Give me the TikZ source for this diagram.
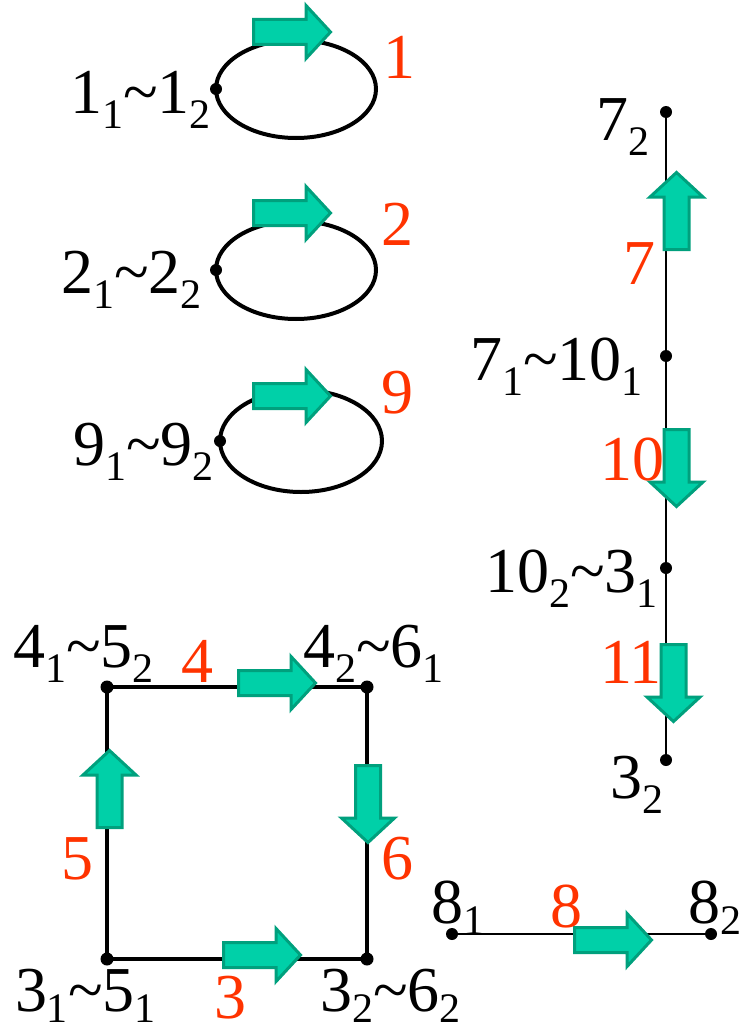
\documentclass[tikz,border=0pt]{standalone}
\usepackage{fontspec}
\setmainfont{Liberation Serif}
\usetikzlibrary{shapes.geometric}
\definecolor{tealfill}{RGB}{0,208,168}
\definecolor{tealedge}{RGB}{0,160,125}
\definecolor{labred}{RGB}{255,51,0}
\newcommand{\mainsz}{\fontsize{64}{64}\selectfont}
\newcommand{\subd}[1]{\raisebox{-15pt}{\fontsize{42}{42}\selectfont #1}}
\newcommand{\subl}[1]{\raisebox{-11pt}{\fontsize{42}{42}\selectfont #1}}
\newcommand{\tld}{\textasciitilde}
\newcommand{\barr}[2]{\draw[blockarr, shift={#1}, rotate=#2] (1.5,-12.5) -- (54,-12.5) -- (54,-26.5) -- (78.5,0) -- (54,26.5) -- (54,12.5) -- (1.5,12.5) -- cycle;}
\begin{document}
\begin{tikzpicture}[x=1pt,y=-1pt,
  lbl/.style={anchor=base west, inner sep=0pt, outer sep=0pt, font=\mainsz, text=black},
  num/.style={lbl, text=labred},
  thickln/.style={line width=4pt, draw=black},
  thinln/.style={line width=1.8pt, draw=black},
  loopell/.style={ellipse, thickln, inner sep=0pt, outer sep=0pt},
  blockarr/.style={fill=tealfill, draw=tealedge, line width=3pt, line join=miter},
  dotr/.style={fill=black}]
\useasboundingbox (0,0) rectangle (740,1033);

% --- loops ---
\node[loopell, minimum width=160pt, minimum height=98pt] (L1) at (296,89) {};
\node[loopell, minimum width=160pt, minimum height=98pt] (L2) at (296,270) {};
\node[loopell, minimum width=162pt, minimum height=102pt] (L9) at (301,441) {};
\fill[dotr] (L1.west) circle (6pt);
\fill[dotr] (L2.west) circle (6pt);
\fill[dotr] (L9.west) circle (6pt);
\barr{(252,32)}{0}
\barr{(252,213)}{0}
\barr{(252,396)}{0}
\node[lbl] (t1) at (70,113) {1\subd{1}\tld 1\subd{2}};
\node[lbl] (t2) at (61,293) {2\subd{1}\tld 2\subd{2}};
\node[lbl] (t9) at (73,465) {9\subd{1}\tld 9\subd{2}};
\node[num] (n1) at (383,78) {1};
\node[num] (n2) at (381,245) {2};
\node[num] (n9) at (381,413) {9};

% --- vertical chain ---
\coordinate (v72) at (666,112);
\coordinate (v71) at (666,356);
\coordinate (v102) at (666,568);
\coordinate (v32) at (666,760);
\draw[thinln] (v72) -- (v71) -- (v102) -- (v32);
\foreach \p in {v72,v71,v102,v32} \fill[dotr] (\p) circle (6pt);
\barr{(676.5,251)}{90}
\barr{(676.5,428)}{-90}
\barr{(673.5,643)}{-90}
\node[lbl] (t72) at (596,140) {7\subd{2}};
\node[lbl] (t71) at (470,380) {7\subd{1}\tld 10\subd{1}};
\node[lbl] (t102) at (485,592) {10\subd{2}\tld 3\subd{1}};
\node[lbl] (t32) at (610,798) {3\subd{2}};
\node[num] (n7) at (623,284) {7};
\node[num] (n10) at (600,480) {10};
\node[num] (n11) at (600,683) {11};

% --- square ---
\coordinate (TL) at (107,687);
\coordinate (TR) at (367,687);
\coordinate (BL) at (107,959);
\coordinate (BR) at (367,959);
\draw[thickln, line join=miter] (TL) -- (TR) -- (BR) -- (BL) -- cycle;
\foreach \p in {TL,TR,BL,BR} \fill[dotr] (\p) circle (6.5pt);
\barr{(237,683)}{0}
\barr{(222,955)}{0}
\barr{(109.5,829)}{90}
\barr{(368,764)}{-90}
\node[lbl] (tTL) at (13,667) {4\subd{1}\tld 5\subd{2}};
\node[lbl] (tTR) at (303,667) {4\subd{2}\tld 6\subd{1}};
\node[lbl] (tBL) at (15,1011) {3\subl{1}\tld 5\subl{1}};
\node[lbl] (tBR) at (320,1011) {3\subl{2}\tld 6\subl{2}};
\node[num] (n4) at (181,682) {4};
\node[num] (n5) at (61,879) {5};
\node[num] (n6) at (381,879) {6};
\node[num] (n3) at (214,1018) {3};

% --- edge 8 ---
\coordinate (e81) at (452,934);
\coordinate (e82) at (711,934);
\draw[thinln] (e81) -- (e82);
\fill[dotr] (e81) circle (6pt);
\fill[dotr] (e82) circle (6pt);
\barr{(573,940)}{0}
\node[lbl] (t81) at (431,923) {8\raisebox{4pt}{\subd{1}}};
\node[lbl] (t82) at (688,923) {8\raisebox{4pt}{\subd{2}}};
\node[num] (n8) at (550,927) {8};
\end{tikzpicture}
\end{document}
